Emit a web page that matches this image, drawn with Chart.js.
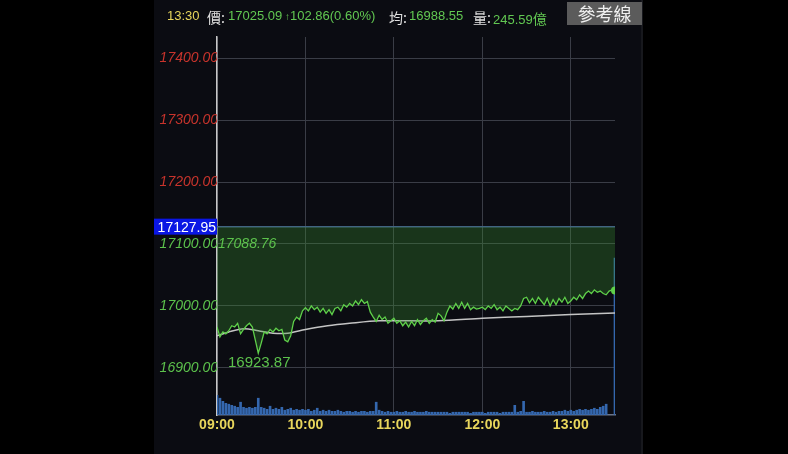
<!DOCTYPE html>
<html>
<head>
<meta charset="utf-8">
<script src="https://cdn.jsdelivr.net/npm/chart.js@4/dist/chart.umd.min.js"></script>
<style>
  html, body { margin: 0; padding: 0; background: #000; width: 788px; height: 454px; overflow: hidden; }
  #panel { position: absolute; left: 154px; top: 0; width: 487px; height: 454px; background: #0b0c12; border-right: 2px solid #17181d; }
  #chart { position: absolute; left: 0; top: 0; }
  .hd { position: absolute; top: 8px; font: 13px "Liberation Sans", "Noto Sans CJK TC", sans-serif; white-space: nowrap; }
  .cjk { font-family: "Noto Sans CJK TC", sans-serif; font-size: 14px; }
  .y { color: #e8d65c; }
  .w { color: #e0e0e0; }
  .g { color: #62c852; }
  #btn { position: absolute; left: 567px; top: 2px; width: 75px; height: 23px; background: #5b5b5b; color: #f0f0f0;
         font: 18px "Noto Sans CJK TC", sans-serif; text-align: center; line-height: 23px; }
</style>
</head>
<body>
<div id="panel"></div>
<canvas id="chart" width="788" height="454"></canvas>
<span class="hd y" style="left:167px">13:30</span>
<span class="hd w cjk" style="left:207px;top:7px">價:</span>
<span class="hd g" style="left:228px">17025.09</span>
<span class="hd g" style="left:285px;font-size:10px;top:11px">↑</span>
<span class="hd g" style="left:290px">102.86(0.60%)</span>
<span class="hd w cjk" style="left:389px;top:7px">均:</span>
<span class="hd g" style="left:409px">16988.55</span>
<span class="hd w cjk" style="left:473px;top:7px">量:</span>
<span class="hd g" style="left:493px">245.59<span class="cjk">億</span></span>
<div id="btn">參考線</div>
<script>
// reference (previous close) and session high / low
const refPrice = 17127.95;
const highPrice = 17088.76;
const lowPrice = 16923.87;

// x positions: minutes after 09:00, one point every 2 minutes
const minutes = Array.from({ length: 136 }, (_, i) => i * 2);
const hourTicks = ['09:00', '10:00', '11:00', '12:00', '13:00'];
const priceTicks = [16900, 17000, 17100, 17200, 17300, 17400];

// index price (every 2 minutes)
const prices = [
  16966, 16950, 16958, 16955, 16960, 16968, 16966, 16972, 16955, 16962, 16968, 16972, 16966, 16945, 16923.87,
  16940, 16958, 16955, 16962, 16958, 16964, 16960, 16962, 16945, 16942, 16952, 16975, 16982, 16978, 16992,
  16997, 16992, 17000, 16994, 16998, 16990, 16996, 16988, 16994, 16986, 16996, 16998, 16992, 17002, 16998,
  17004, 17000, 17008, 17002, 17010, 17004, 17007, 16990, 16982, 16975, 16985, 16978, 16982, 16972, 16976,
  16980, 16972, 16976, 16968, 16974, 16966, 16975, 16968, 16978, 16970, 16976, 16980, 16972, 16978, 16974,
  16988, 16984, 16976, 16990, 17000, 16995, 17004, 16996, 17006, 16996, 17004, 16994, 16998, 16995, 16996,
  16998, 16994, 17000, 16996, 17002, 16994, 16998, 16992, 17000, 16996, 16992, 16996, 16994, 17000, 17012,
  17014, 17005, 17012, 17004, 17014, 17008, 17002, 17012, 17000, 17010, 17002, 17012, 17006, 17014, 17004,
  17008, 17014, 17010, 17018, 17012, 17020, 17024, 17020, 17026, 17022, 17024, 17020, 17018, 17024, 17026, 17025.09
];

// volume per 2 minutes (億)
const volumes = [
  9.0, 7.7, 6.3, 5.4, 5.0, 4.5, 4.1, 3.6, 5.9, 3.6, 3.2, 3.6, 3.2, 3.6, 7.7,
  3.6, 3.2, 2.7, 4.1, 2.7, 3.2, 2.7, 3.6, 2.3, 2.7, 3.2, 2.3, 2.7, 2.3, 2.7,
  2.3, 2.7, 1.8, 2.3, 3.2, 1.8, 2.3, 1.8, 2.3, 1.8, 1.8, 2.3, 1.8, 1.4, 1.8,
  1.8, 1.4, 1.8, 1.4, 1.8, 1.8, 1.4, 1.8, 1.8, 5.9, 2.3, 1.8, 1.4, 1.8, 1.4,
  1.4, 1.8, 1.4, 1.4, 1.8, 1.4, 1.4, 1.8, 1.4, 1.4, 1.4, 1.8, 1.4, 1.4, 1.4,
  1.4, 1.4, 1.4, 1.4, 0.9, 1.4, 1.4, 1.4, 1.4, 1.4, 1.4, 0.9, 1.4, 1.4, 1.4,
  1.4, 0.9, 1.4, 1.4, 1.4, 1.4, 0.9, 1.4, 1.4, 1.4, 1.4, 4.5, 1.4, 1.8, 6.3,
  1.4, 1.4, 1.8, 1.4, 1.4, 1.4, 1.8, 1.4, 1.4, 1.8, 1.4, 1.8, 1.8, 2.3, 1.8,
  2.3, 1.8, 2.3, 2.7, 2.3, 2.7, 2.3, 2.7, 3.2, 2.7, 3.6, 4.1, 5.0, 0, 0, 70.7
];

// running average price
const avgMinutes = [0, 8, 18, 28, 38, 48, 60, 75, 90, 110, 150, 180, 210, 240, 270];
const avgPrices = [16952, 16958, 16963, 16960, 16956, 16956, 16962, 16968, 16972, 16976, 16976, 16980, 16983, 16986, 16988.55];

const RED = '#c8342c';
const GREEN = '#5cc24c';

// reference box, reference price tag and high/low labels
const overlay = {
  id: 'overlay',
  beforeDatasetsDraw(chart) {
    const { ctx, chartArea: a, scales } = chart;
    const yr = scales.y.getPixelForValue(refPrice);
    ctx.save();
    ctx.strokeStyle = '#44618a';
    ctx.lineWidth = 1.5;
    ctx.beginPath();
    ctx.moveTo(a.left, yr);
    ctx.lineTo(a.right, yr);
    ctx.stroke();
    ctx.restore();
  },
  afterDraw(chart) {
    const { ctx, chartArea: a, scales } = chart;
    const yr = scales.y.getPixelForValue(refPrice);
    ctx.save();
    ctx.fillStyle = '#0a16e4';
    ctx.fillRect(154, yr - 8, a.left - 154, 16);
    ctx.fillStyle = '#ffffff';
    ctx.font = '14px "Liberation Sans", sans-serif';
    ctx.textAlign = 'right';
    ctx.textBaseline = 'middle';
    ctx.fillText(refPrice.toFixed(2), a.left - 1, yr + 1);

    ctx.fillStyle = GREEN;
    ctx.font = 'italic 14px "Liberation Sans", sans-serif';
    ctx.textAlign = 'left';
    ctx.textBaseline = 'bottom';
    ctx.fillText(highPrice.toFixed(2), a.left + 1, scales.y.getPixelForValue(highPrice) + 0);

    const iLow = prices.indexOf(lowPrice);
    ctx.font = '15px "Liberation Sans", sans-serif';
    ctx.textAlign = 'center';
    ctx.textBaseline = 'top';
    ctx.fillText(lowPrice.toFixed(2), scales.x.getPixelForValue(minutes[iLow]) + 1, scales.y.getPixelForValue(lowPrice) + 2);
    ctx.restore();
  }
};

const last = prices.length - 1;

new Chart(document.getElementById('chart'), {
  data: {
    datasets: [
      {
        type: 'line',
        label: '價',
        data: minutes.map((m, i) => ({ x: m, y: prices[i] })),
        borderColor: '#5fd04a',
        borderWidth: 1.3,
        tension: 0,
        pointRadius: (c) => (c.dataIndex === last ? 4 : 0),
        pointBackgroundColor: '#5fd04a',
        pointBorderWidth: 0,
        fill: { value: refPrice },
        backgroundColor: 'rgba(60,150,50,0.3)',
        yAxisID: 'y',
        order: 0
      },
      {
        type: 'line',
        label: '均',
        data: avgMinutes.map((m, i) => ({ x: m, y: avgPrices[i] })),
        borderColor: '#c4c4c4',
        borderWidth: 1.5,
        tension: 0.3,
        pointRadius: 0,
        fill: false,
        yAxisID: 'y',
        order: 1
      },
      {
        type: 'bar',
        label: '量',
        data: minutes.map((m, i) => ({ x: m, y: volumes[i] })),
        backgroundColor: '#3467ae',
        barPercentage: 0.9,
        categoryPercentage: 1,
        yAxisID: 'yv',
        order: 2
      }
    ]
  },
  options: {
    responsive: false,
    animation: false,
    devicePixelRatio: 1,
    layout: { padding: { left: 154, right: 173, top: 37, bottom: 0 } },
    plugins: { legend: { display: false }, tooltip: { enabled: false } },
    scales: {
      x: {
        type: 'linear',
        min: 0,
        max: 270,
        offset: false,
        afterFit: (s) => { s.height = 39; },
        grid: { color: '#3a3d46', lineWidth: 1, drawTicks: false, offset: false },
        border: { color: '#6b7487', width: 1.5 },
        ticks: {
          stepSize: 60,
          includeBounds: false,
          padding: 2,
          maxRotation: 0,
          color: '#e8d65c',
          font: { family: 'Liberation Sans', size: 14, weight: 'bold' },
          callback: (v) => hourTicks[v / 60]
        }
      },
      y: {
        position: 'left',
        min: 16824,
        max: 17434,
        afterFit: (s) => { s.width = 63; },
        afterBuildTicks: (s) => { s.ticks = priceTicks.map((v) => ({ value: v })); },
        grid: { color: '#3a3d46', lineWidth: 1, drawTicks: false },
        border: { color: '#c8c8c8', width: 1.5 },
        ticks: {
          padding: -1,
          color: (c) => (c.tick && c.tick.value > refPrice ? RED : GREEN),
          font: { family: 'Liberation Sans', size: 14, style: 'italic' },
          callback: (v) => Number(v).toFixed(2)
        }
      },
      yv: {
        display: false,
        min: 0,
        max: 170
      }
    }
  },
  plugins: [overlay]
});
</script>
</body>
</html>
